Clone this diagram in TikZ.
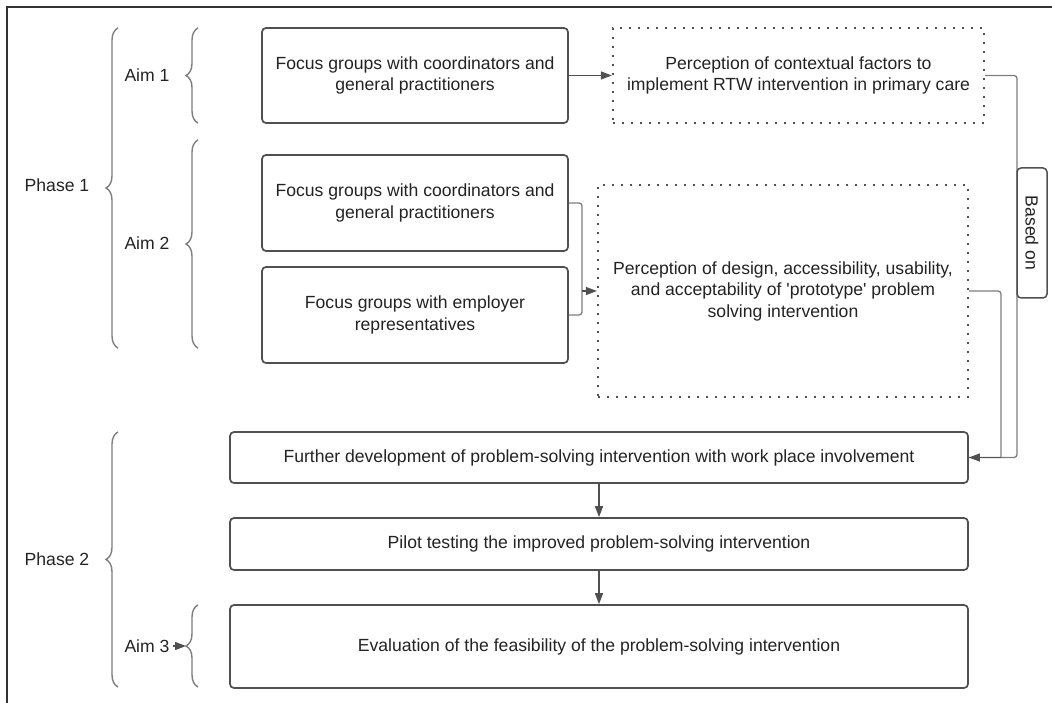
\documentclass[tikz,border=0pt]{standalone}
\usepackage{fontspec}
\setmainfont{Liberation Sans}
\definecolor{textgray}{RGB}{35, 35, 35}
\definecolor{boxgray}{RGB}{80, 80, 80}
\definecolor{linegray}{RGB}{125, 125, 125}
\usetikzlibrary{arrows.meta, positioning, calc, decorations.pathreplacing}

\tikzset{
  lbl/.style={font=\fontsize{17.6}{21.5}\selectfont, text=textgray, align=center, inner sep=0pt},
  stagebox/.style={lbl, draw=boxgray, line width=1.7pt, rounded corners=4pt, fill=white},
  dotbox/.style={lbl, draw=boxgray, line width=2.2pt, dash pattern=on 2pt off 7pt},
  conn/.style={draw=linegray, line width=1.3pt, rounded corners=3pt},
  arr/.style={draw=boxgray, line width=1.3pt, -{Triangle[length=11pt, width=8pt]}},
  curly/.style={draw=linegray, line width=1.4pt, decorate, decoration={brace, amplitude=12pt}}
}

\begin{document}
\begin{tikzpicture}[x=1pt, y=-1pt]
  \useasboundingbox (0, 0) rectangle (1052, 703);

  % Frame
  \draw[line width=2pt, black!80] (1052, 7) -- (7, 7) -- (7, 703);

  % Braces and labels
  \draw[curly] (118, 348) -- (118, 28);
  \node[lbl] (phase1) at (57, 185) {Phase 1};
  \draw[curly] (198, 123) -- (198, 28);
  \node[lbl] (aim1) at (147, 75) {Aim 1};
  \draw[curly] (198, 348) -- (198, 140);
  \node[lbl] (aim2) at (147, 243) {Aim 2};
  \draw[curly] (118, 687) -- (118, 432);
  \node[lbl] (phase2) at (57, 559) {Phase 2};
  \draw[curly] (198, 687) -- (198, 605);
  \node[lbl] (aim3) at (147, 646) {Aim 3};
  \coordinate (tip3) at (186, 646);
  \draw[arr, shorten <=3pt, -{Triangle[length=11pt, width=8pt]}] (aim3) -- (tip3);

  % Phase 1 boxes
  \node[stagebox, minimum width=306, minimum height=95] (fg1) at (415, 75.5)
    {Focus groups with coordinators and\\general practitioners};
  \node[dotbox, minimum width=371, minimum height=95] (perc1) at (798.5, 75.5)
    {Perception of contextual factors to\\implement RTW intervention in primary care};
  \node[stagebox, minimum width=306, minimum height=96] (fg2) at (415, 203)
    {Focus groups with coordinators and\\general practitioners};
  \node[stagebox, minimum width=306, minimum height=96] (fg3) at (415, 315)
    {Focus groups with employer\\representatives};
  \node[dotbox, minimum width=370, minimum height=212] (perc2) at (783, 291)
    {Perception of design, accessibility, usability,\\and acceptability of \textquotesingle prototype\textquotesingle{} problem\\solving intervention};

  % Phase 2 boxes
  \node[stagebox, minimum width=738, minimum height=51] (dev) at (599, 457.5)
    {Further development of problem-solving intervention with work place involvement};
  \node[stagebox, minimum width=738, minimum height=52] (pilot) at (599, 544)
    {Pilot testing the improved problem-solving intervention};
  \node[stagebox, minimum width=738, minimum height=83] (eval) at (599, 646.5)
    {Evaluation of the feasibility of the problem-solving intervention};

  % Connectors
  \coordinate (fgjoin) at (582, 0);
  \coordinate (rail1) at (1017, 0);
  \coordinate (rail2) at (1001, 0);
  \draw[arr] (fg1) -- (perc1);
  \draw[conn] (fg2.east) -- (fg2.east -| fgjoin) -- (fg3.east -| fgjoin) -- (fg3.east);
  \draw[arr] (perc2.west -| fgjoin) -- (perc2.west);
  \draw[conn] (perc2.east) -| (rail2 |- dev.east);
  \draw[conn] (perc1.east) -| (rail1 |- dev.east) -- (dev.east);
  \draw[arr] (rail2 |- dev.east) -- (dev.east);
  \draw[arr] (dev) -- (pilot);
  \draw[arr] (pilot) -- (eval);

  % Based on
  \node[stagebox, rotate=-90, minimum width=130, minimum height=30, line width=1.5pt] (based) at (1032, 233) {Based on};
\end{tikzpicture}
\end{document}
